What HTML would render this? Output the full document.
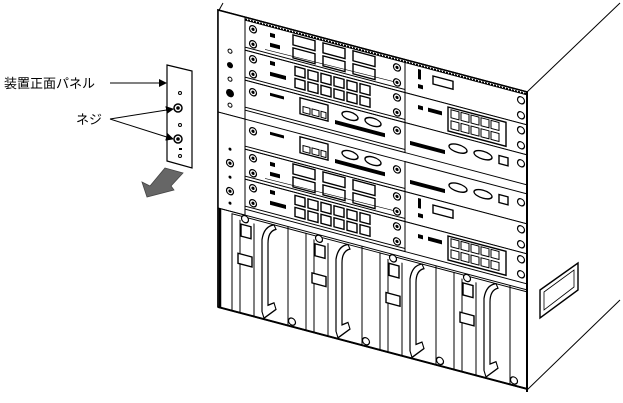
<!DOCTYPE html>
<html><head><meta charset="utf-8"><style>
html,body{margin:0;padding:0;background:#fff;overflow:hidden;}
svg{display:block;}
text{font-family:"Liberation Sans","Noto Sans CJK JP",sans-serif;}
</style></head><body>
<svg width="623" height="403" viewBox="0 0 623 403" xmlns="http://www.w3.org/2000/svg">
<defs>
<marker id="ah" markerWidth="8" markerHeight="8" refX="7" refY="4" orient="auto" markerUnits="userSpaceOnUse">
<path d="M0,0 L8,4 L0,8 Z" fill="#000"/>
</marker>
</defs>

<line x1="527" y1="390" x2="620" y2="300" stroke="#000"/>
<line x1="218" y1="12" x2="223" y2="3" stroke="#000"/>
<polygon points="540,290 578,263 578,290 540,318" fill="#fff" stroke="#000" stroke-width="1.4"/>
<polygon points="544,292 574,270 574,287 544,310" fill="none" stroke="#000" stroke-width="0.8"/>

<g transform="translate(218,10) matrix(1 0.265 0 1 0 0)">
<rect x="0" y="0" width="309" height="297" fill="#fff" stroke="#000" stroke-width="1.5"/>
<line x1="2" y1="0" x2="2" y2="297" stroke="#000" stroke-width="2.5"/>
<line x1="0" y1="2" x2="309" y2="2" stroke="#000" stroke-width="1.5" stroke-dasharray="2 1"/>
<rect x="0" y="0" width="27" height="102" fill="#fff" stroke="#000"/>
<rect x="0" y="102" width="27" height="96" fill="#fff" stroke="#000"/>
<g fill="none" stroke="#000"><circle cx="12" cy="38" r="2"/><circle cx="12" cy="66" r="2"/><circle cx="12" cy="92" r="2"/></g>
<circle cx="12" cy="52" r="3" fill="#000"/><circle cx="12" cy="80" r="4" fill="#000"/>
<circle cx="12" cy="136" r="1.5" fill="#000"/><circle cx="12" cy="164" r="1.5" fill="#000"/><circle cx="12" cy="190" r="1.5" fill="#000"/>
<g fill="#fff" stroke="#000" stroke-width="1.2"><circle cx="12" cy="150" r="3.5"/><circle cx="12" cy="178" r="3.5"/></g>
<g fill="#000"><circle cx="12" cy="150" r="1.6"/><circle cx="12" cy="178" r="1.6"/></g>

<g stroke="#000" fill="none">
<path d="M27,3h160v30h-160zM27,30h160M27,132h160v30h-160zM27,159h160"/>
<path d="M47,27L177,25M47,156L177,154" stroke-width="0.6"/>
<g stroke-width="1.4">
<rect x="75" y="5" width="22" height="10"/><rect x="75" y="18" width="22" height="10"/><rect x="105" y="5" width="22" height="10"/><rect x="105" y="18" width="22" height="10"/><rect x="135" y="5" width="22" height="10"/><rect x="135" y="18" width="22" height="10"/>
<rect x="75" y="134" width="22" height="10"/><rect x="75" y="147" width="22" height="10"/><rect x="105" y="134" width="22" height="10"/><rect x="105" y="147" width="22" height="10"/><rect x="135" y="134" width="22" height="10"/><rect x="135" y="147" width="22" height="10"/>
</g></g>
<g fill="#000"><rect x="52" y="9" width="5" height="4"/><rect x="52" y="19" width="10" height="4"/><rect x="52" y="138" width="5" height="4"/><rect x="52" y="148" width="10" height="4"/></g>

<g stroke="#000" fill="none">
<path d="M27,33h160v30h-160zM27,60h160M27,162h160v30h-160zM27,189h160"/>
<g stroke-width="1.4">
<rect x="77" y="36" width="10" height="9"/><rect x="90" y="36" width="10" height="9"/><rect x="103" y="36" width="10" height="9"/><rect x="116" y="36" width="10" height="9"/><rect x="129" y="36" width="10" height="9"/><rect x="142" y="36" width="10" height="9"/>
<rect x="77" y="48" width="10" height="9"/><rect x="90" y="48" width="10" height="9"/><rect x="103" y="48" width="10" height="9"/><rect x="116" y="48" width="10" height="9"/><rect x="129" y="48" width="10" height="9"/><rect x="142" y="48" width="10" height="9"/>
<rect x="77" y="165" width="10" height="9"/><rect x="90" y="165" width="10" height="9"/><rect x="103" y="165" width="10" height="9"/><rect x="116" y="165" width="10" height="9"/><rect x="129" y="165" width="10" height="9"/><rect x="142" y="165" width="10" height="9"/>
<rect x="77" y="177" width="10" height="9"/><rect x="90" y="177" width="10" height="9"/><rect x="103" y="177" width="10" height="9"/><rect x="116" y="177" width="10" height="9"/><rect x="129" y="177" width="10" height="9"/><rect x="142" y="177" width="10" height="9"/>
</g></g>
<g fill="#000"><rect x="52" y="37" width="5" height="4"/><rect x="52" y="48" width="16" height="4"/><rect x="52" y="166" width="5" height="4"/><rect x="52" y="177" width="16" height="4"/></g>

<g stroke="#000" fill="none">
<path d="M27,63h160v30h-160zM27,90h160M27,102h160v30h-160zM27,129h160"/>
<g stroke-width="1.4">
<rect x="82" y="66" width="28" height="16"/><rect x="82" y="105" width="28" height="16"/>
<ellipse cx="132" cy="71" rx="8" ry="4"/><ellipse cx="155" cy="71" rx="8" ry="4"/>
<ellipse cx="132" cy="110" rx="8" ry="4"/><ellipse cx="155" cy="110" rx="8" ry="4"/>
</g>
<g><rect x="85" y="74" width="7" height="6"/><rect x="94" y="74" width="7" height="6"/><rect x="103" y="74" width="5" height="6"/><rect x="85" y="113" width="7" height="6"/><rect x="94" y="113" width="7" height="6"/><rect x="103" y="113" width="5" height="6"/></g>
</g>
<g fill="#000"><rect x="52" y="69" width="14" height="3"/><rect x="52" y="108" width="14" height="3"/><rect x="117" y="79" width="50" height="4"/><rect x="117" y="118" width="50" height="4"/></g>

<g fill="#fff" stroke="#000" stroke-width="1.2">
<circle cx="35" cy="10" r="3.5"/><circle cx="35" cy="25" r="3.5"/><circle cx="179" cy="10" r="3.5"/><circle cx="179" cy="25" r="3.5"/>
<circle cx="35" cy="40" r="3.5"/><circle cx="35" cy="55" r="3.5"/><circle cx="179" cy="40" r="3.5"/><circle cx="179" cy="55" r="3.5"/>
<circle cx="35" cy="73" r="3.5"/><circle cx="179" cy="73" r="3.5"/>
<circle cx="35" cy="112" r="3.5"/><circle cx="179" cy="112" r="3.5"/>
<circle cx="35" cy="139" r="3.5"/><circle cx="35" cy="154" r="3.5"/><circle cx="179" cy="139" r="3.5"/><circle cx="179" cy="154" r="3.5"/>
<circle cx="35" cy="169" r="3.5"/><circle cx="35" cy="184" r="3.5"/><circle cx="179" cy="169" r="3.5"/><circle cx="179" cy="184" r="3.5"/>
</g>
<g fill="#000">
<circle cx="35" cy="10" r="1.6"/><circle cx="35" cy="25" r="1.6"/><circle cx="179" cy="10" r="1.6"/><circle cx="179" cy="25" r="1.6"/>
<circle cx="35" cy="40" r="1.6"/><circle cx="35" cy="55" r="1.6"/><circle cx="179" cy="40" r="1.6"/><circle cx="179" cy="55" r="1.6"/>
<circle cx="35" cy="73" r="1.6"/><circle cx="179" cy="73" r="1.6"/>
<circle cx="35" cy="112" r="1.6"/><circle cx="179" cy="112" r="1.6"/>
<circle cx="35" cy="139" r="1.6"/><circle cx="35" cy="154" r="1.6"/><circle cx="179" cy="139" r="1.6"/><circle cx="179" cy="154" r="1.6"/>
<circle cx="35" cy="169" r="1.6"/><circle cx="35" cy="184" r="1.6"/><circle cx="179" cy="169" r="1.6"/><circle cx="179" cy="184" r="1.6"/>
</g>

<!-- right cards -->
<g stroke="#000" fill="#fff">
<rect x="187" y="3" width="122" height="30"/><rect x="187" y="33" width="122" height="30"/><rect x="187" y="63" width="122" height="30"/>
<rect x="187" y="102" width="122" height="30"/><rect x="187" y="132" width="122" height="30"/><rect x="187" y="162" width="122" height="30"/>
</g>
<g stroke="#000" fill="none" stroke-width="1.4">
<rect x="215" y="9" width="20" height="8"/><rect x="215" y="138" width="20" height="8"/>
<rect x="230" y="36" width="58" height="24"/><rect x="230" y="165" width="58" height="24"/>
<ellipse cx="240" cy="75" rx="9" ry="4"/><ellipse cx="265" cy="75" rx="9" ry="4"/><rect x="281" y="71" width="9" height="8"/>
<ellipse cx="240" cy="114" rx="9" ry="4"/><ellipse cx="265" cy="114" rx="9" ry="4"/><rect x="281" y="110" width="9" height="8"/>
</g>
<g stroke="#000" fill="none">
<rect x="233" y="38" width="8" height="8"/><rect x="243" y="38" width="8" height="8"/><rect x="253" y="38" width="8" height="8"/><rect x="263" y="38" width="8" height="8"/><rect x="273" y="38" width="8" height="8"/>
<rect x="233" y="49" width="8" height="8"/><rect x="243" y="49" width="8" height="8"/><rect x="253" y="49" width="8" height="8"/><rect x="263" y="49" width="8" height="8"/><rect x="273" y="49" width="8" height="8"/>
<rect x="233" y="167" width="8" height="8"/><rect x="243" y="167" width="8" height="8"/><rect x="253" y="167" width="8" height="8"/><rect x="263" y="167" width="8" height="8"/><rect x="273" y="167" width="8" height="8"/>
<rect x="233" y="178" width="8" height="8"/><rect x="243" y="178" width="8" height="8"/><rect x="253" y="178" width="8" height="8"/><rect x="263" y="178" width="8" height="8"/><rect x="273" y="178" width="8" height="8"/>
</g>
<g fill="#000">
<rect x="200" y="6" width="3" height="10"/><rect x="200" y="21" width="5" height="4"/><rect x="200" y="135" width="3" height="10"/><rect x="200" y="150" width="5" height="4"/>
<rect x="200" y="42" width="5" height="4"/><rect x="210" y="42" width="14" height="4"/><rect x="200" y="171" width="5" height="4"/><rect x="210" y="171" width="14" height="4"/>
<rect x="192" y="80" width="35" height="4"/><rect x="192" y="119" width="35" height="4"/>
</g>
<g fill="#fff" stroke="#000" stroke-width="1.2">
<circle cx="303" cy="10" r="3.5"/><circle cx="303" cy="25" r="3.5"/><circle cx="303" cy="40" r="3.5"/><circle cx="303" cy="55" r="3.5"/>
<circle cx="303" cy="73" r="3.5"/><circle cx="303" cy="112" r="3.5"/><circle cx="303" cy="139" r="3.5"/><circle cx="303" cy="154" r="3.5"/>
<circle cx="303" cy="169" r="3.5"/><circle cx="303" cy="184" r="3.5"/>
</g>

<!-- fans -->
<line x1="0" y1="198" x2="309" y2="198" stroke="#000"/>
<g stroke="#000">
<rect x="14" y="200" width="74" height="97" fill="#fff"/><rect x="88" y="200" width="74" height="97" fill="#fff"/><rect x="162" y="200" width="74" height="97" fill="#fff"/><rect x="236" y="200" width="73" height="97" fill="#fff"/>
<path d="M22,204V297M36,204V297M70,198V297M96,204V297M110,204V297M144,198V297M170,204V297M184,204V297M218,198V297M244,204V297M258,204V297M292,198V297" fill="none"/>
<g fill="#fff" stroke-width="1.4">
<rect x="23" y="208" width="10" height="12"/><rect x="20" y="238" width="14" height="10"/>
<rect x="97" y="208" width="10" height="12"/><rect x="94" y="238" width="14" height="10"/>
<rect x="171" y="208" width="10" height="12"/><rect x="168" y="238" width="14" height="10"/>
<rect x="245" y="208" width="10" height="12"/><rect x="242" y="238" width="14" height="10"/>
</g>
<g fill="#fff" stroke-width="1.2">
<path d="M44,290L44,218Q46,204 56,200L58,204Q50,208 50,220L50,282L56,278L58,284L46,296Z"/>
<path d="M118,290L118,218Q120,204 130,200L132,204Q124,208 124,220L124,282L130,278L132,284L120,296Z"/>
<path d="M192,290L192,218Q194,204 204,200L206,204Q198,208 198,220L198,282L204,278L206,284L194,296Z"/>
<path d="M266,290L266,218Q268,204 278,200L280,204Q272,208 272,220L272,282L278,278L280,284L268,296Z"/>
<circle cx="27" cy="202" r="3.5"/><circle cx="74" cy="292" r="3.5"/>
<circle cx="101" cy="202" r="3.5"/><circle cx="148" cy="292" r="3.5"/>
<circle cx="175" cy="202" r="3.5"/><circle cx="222" cy="292" r="3.5"/>
<circle cx="249" cy="202" r="3.5"/><circle cx="296" cy="292" r="3.5"/>
</g>
</g>
<rect x="0" y="0" width="309" height="297" fill="none" stroke="#000" stroke-width="1.5"/>
<line x1="0" y1="297" x2="309" y2="297" stroke="#000" stroke-width="2"/>
</g>
<line x1="527" y1="92" x2="620" y2="3" stroke="#000"/>
<line x1="527" y1="92" x2="527" y2="392" stroke="#000" stroke-width="2"/>

<polygon points="167,65 192,71 192,168 167,161" fill="#fff" stroke="#000" stroke-width="1.2"/>
<circle cx="180" cy="93" r="1.5" fill="none" stroke="#000"/>
<circle cx="178" cy="108" r="4" fill="#fff" stroke="#000" stroke-width="1.5"/><circle cx="178" cy="108" r="1.8" fill="#000"/>
<circle cx="180" cy="125" r="1.5" fill="none" stroke="#000"/>
<circle cx="178" cy="139" r="4" fill="#fff" stroke="#000" stroke-width="1.5"/><circle cx="178" cy="139" r="1.8" fill="#000"/>
<rect x="179" y="148" width="3" height="2" fill="#000"/>
<circle cx="180" cy="156" r="1.5" fill="none" stroke="#000"/>
<polygon points="165,168 183,173 171,186 174,190 147,197 142,182 150,186" fill="#666" stroke="#444" stroke-width="0.8"/>

<text x="4" y="88" font-size="13">装置正面パネル</text>
<line x1="110" y1="83" x2="166" y2="83" stroke="#000" marker-end="url(#ah)"/>
<text x="76" y="124" font-size="13">ネジ</text>
<line x1="110" y1="119" x2="173" y2="109" stroke="#000" marker-end="url(#ah)"/>
<line x1="110" y1="119" x2="173" y2="139" stroke="#000" marker-end="url(#ah)"/>
</svg>
</body></html>
